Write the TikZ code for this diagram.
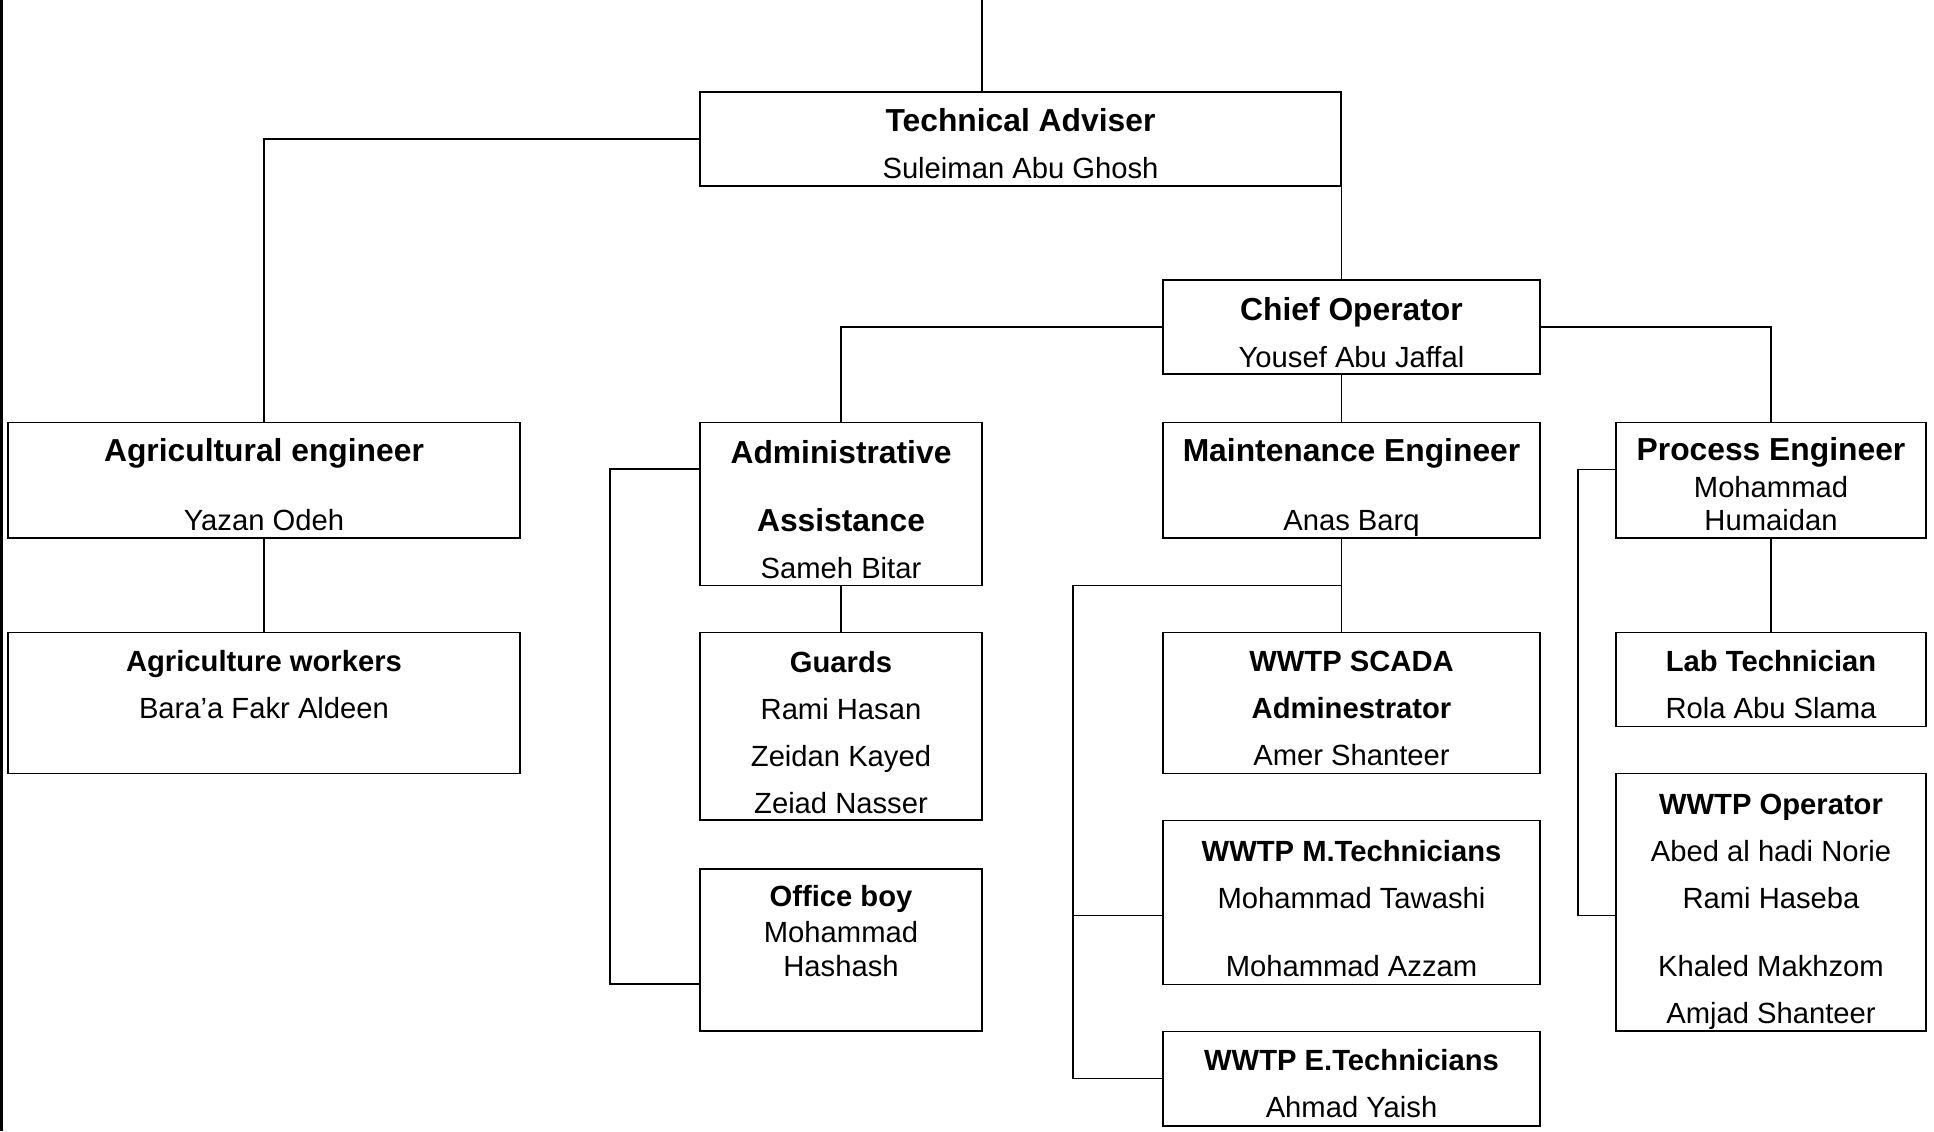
\documentclass[tikz,border=0pt]{standalone}
\usepackage{fontspec}
\setmainfont{Liberation Sans}
\usetikzlibrary{calc}
\newcommand\post[1]{{\fontsize{15.9}{23.5}\selectfont\bfseries #1}}
\begin{document}
\begin{tikzpicture}[x=0.5pt,y=-0.5pt,
    box/.style={draw,line width=0.6pt,inner sep=0pt},
    names/.style={anchor=base,align=center,inner sep=0pt,font=\fontsize{14.6}{23.5}\selectfont}]
  \useasboundingbox (0,0) rectangle (1934,1131);
  \draw[line width=1.75pt] (1.7,0) -- (1.7,1131);
  % boxes
  \node[box,minimum width=320.5pt,minimum height=47pt] (ta) at (1020.5,139) {};
  \node[box,minimum width=188.5pt,minimum height=47pt] (chief) at (1351.5,327) {};
  \node[box,minimum width=256pt,minimum height=57.75pt] (agreng) at (264,480.25) {};
  \node[box,minimum width=141pt,minimum height=81.5pt] (admin) at (841,504) {};
  \node[box,minimum width=188.5pt,minimum height=57.75pt] (maint) at (1351.5,480.25) {};
  \node[box,minimum width=155pt,minimum height=57.75pt] (proc) at (1771,480.25) {};
  \node[box,minimum width=256pt,minimum height=70.5pt] (agrwork) at (264,703) {};
  \node[box,minimum width=141pt,minimum height=93.75pt] (guards) at (841,726.25) {};
  \node[box,minimum width=141pt,minimum height=81pt] (office) at (841,950) {};
  \node[box,minimum width=188.5pt,minimum height=70.5pt] (scada) at (1351.5,703) {};
  \node[box,minimum width=188.5pt,minimum height=82pt] (mtech) at (1351.5,902.2) {};
  \node[box,minimum width=188.5pt,minimum height=47.25pt] (etech) at (1351.5,1078.75) {};
  \node[box,minimum width=155pt,minimum height=47pt] (lab) at (1771,679.5) {};
  \node[box,minimum width=155pt,minimum height=128.75pt] (oper) at (1771,902.25) {};
  % texts (placed by the baseline of their last line)
  \node[names] (ta-t) at (1020.5,178.6) {\post{Technical Adviser}\\Suleiman Abu Ghosh};
  \node[names] (chief-t) at (1351.5,367) {\post{Chief Operator}\\Yousef Abu Jaffal};
  \node[names] (agreng-t) at (264,530) {\post{Agricultural engineer}\\[11pt]Yazan Odeh};
  \node[names] (admin-t) at (841,578) {\post{Administrative}\\[10.5pt]\post{Assistance}\\Sameh Bitar};
  \node[names] (maint-t) at (1351.5,530) {\post{Maintenance Engineer}\\[11pt]Anas Barq};
  \node[names] (proc-t) at (1771,530) {\post{Process Engineer}\\[-5pt]Mohammad\\[-7pt]Humaidan};
  \node[names] (agrwork-t) at (264,718.4) {\textbf{Agriculture workers}\\Bara’a Fakr Aldeen};
  \node[names] (guards-t) at (841,813) {\textbf{Guards}\\Rami Hasan\\Zeidan Kayed\\Zeiad Nasser};
  \node[names] (office-t) at (841,976) {\textbf{Office boy}\\[-5.5pt]Mohammad\\[-6.5pt]Hashash};
  \node[names] (scada-t) at (1351.5,765.8) {\textbf{WWTP SCADA}\\\textbf{Adminestrator}\\Amer Shanteer};
  \node[names] (lab-t) at (1771,718.4) {\textbf{Lab Technician}\\Rola Abu Slama};
  \node[names] (oper-t) at (1771,1023) {\textbf{WWTP Operator}\\Abed al hadi Norie\\Rami Haseba\\[10.5pt]Khaled Makhzom\\Amjad Shanteer};
  \node[names] (mtech-t) at (1351.5,976) {\textbf{WWTP M.Technicians}\\Mohammad Tawashi\\[10.5pt]Mohammad Azzam};
  \node[names] (etech-t) at (1351.5,1117) {\textbf{WWTP E.Technicians}\\Ahmad Yaish};
  % side branches
  \coordinate (top) at (982,0);
  \coordinate (adminbus) at (610,0);
  \coordinate (maintbus) at (1073,0);
  \coordinate (procbus) at (1578,0);
  \coordinate (adminin) at ([yshift=17.5pt]admin.west);
  \coordinate (officein) at ([yshift=-17pt]office.west);
  \coordinate (mtechin) at ([yshift=-6.5pt]mtech.west);
  \coordinate (procin) at ([yshift=5.5pt]proc.west);
  \coordinate (operin) at ([yshift=-6.5pt]oper.west);
  \coordinate (mjoin) at ($(maint.south -| ta.south east)!.5!(scada.north -| ta.south east)$);
  \begin{scope}[line width=0.6pt]
    \draw (top) -- (top |- ta.north);
    \draw (ta.west) -| (agreng.north);
    \draw (ta.south east) -- (ta.south east |- chief.north);
    \draw (chief.west) -| (admin.north);
    \draw (chief.east) -| (proc.north);
    \draw (chief.south -| ta.south east) -- (maint.north -| ta.south east);
    \draw (maint.south -| ta.south east) -- (scada.north -| ta.south east);
    \draw (agreng.south) -- (agrwork.north);
    \draw (admin.south) -- (guards.north);
    \draw (proc.south) -- (lab.north);
    \draw (adminin) -| (officein -| adminbus) -- (officein);
    \draw (mjoin) -| (etech.west -| maintbus) -- (etech.west);
    \draw (mtechin -| maintbus) -- (mtechin);
    \draw (procin) -| (operin -| procbus) -- (operin);
  \end{scope}
\end{tikzpicture}
\end{document}
